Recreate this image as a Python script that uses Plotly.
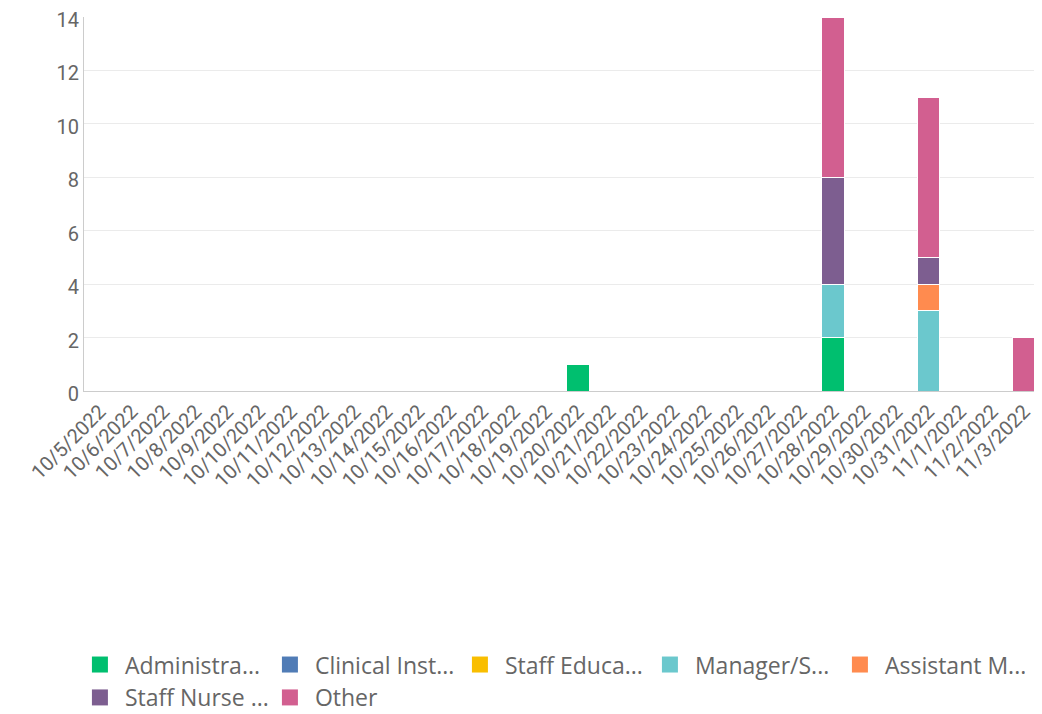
import plotly.graph_objects as go

dates = ["10/5/2022", "10/6/2022", "10/7/2022", "10/8/2022", "10/9/2022", "10/10/2022",
         "10/11/2022", "10/12/2022", "10/13/2022", "10/14/2022", "10/15/2022", "10/16/2022",
         "10/17/2022", "10/18/2022", "10/19/2022", "10/20/2022", "10/21/2022", "10/22/2022",
         "10/23/2022", "10/24/2022", "10/25/2022", "10/26/2022", "10/27/2022", "10/28/2022",
         "10/29/2022", "10/30/2022", "10/31/2022", "11/1/2022", "11/2/2022", "11/3/2022"]

administrative = [0]*15 + [1] + [0]*7 + [2] + [0]*6
clinical_inst = [0]*30
staff_educ = [0]*30
manager = [0]*23 + [2] + [0]*2 + [3] + [0]*3
assistant_m = [0]*26 + [1] + [0]*3
staff_nurse = [0]*23 + [4] + [0]*2 + [1] + [0]*3
other = [0]*23 + [6] + [0]*2 + [6] + [0]*2 + [2]

series = [
    ("Administra...", administrative, "#00bf6f"),
    ("Clinical Inst...", clinical_inst, "#507cb6"),
    ("Staff Educa...", staff_educ, "#f9be00"),
    ("Manager/S...", manager, "#6bc8cd"),
    ("Assistant M...", assistant_m, "#ff8b4f"),
    ("Staff Nurse ...", staff_nurse, "#7d5e90"),
    ("Other", other, "#d25f90"),
]

fig = go.Figure()
for name, vals, color in series:
    fig.add_trace(go.Bar(
        x=dates, y=vals, name=name, legendgroup=name, showlegend=False,
        marker=dict(color=color, line=dict(color="white", width=1)),
    ))
    # legend swatch (larger square than the default bar swatch)
    fig.add_trace(go.Scatter(
        x=[None], y=[None], mode="markers", name=name, legendgroup=name,
        marker=dict(symbol="square", size=16, color=color),
        hoverinfo="skip",
    ))

fig.update_layout(
    barmode="stack",
    bargap=0.3,
    width=1034, height=706,
    margin=dict(l=76, r=2, t=9, b=323, autoexpand=False),
    paper_bgcolor="white", plot_bgcolor="white",
    font=dict(family="Roboto", size=20, color="#666666"),
    xaxis=dict(
        type="category", tickangle=-45, showgrid=False, automargin=False,
        showline=True, linecolor="#cccccc", linewidth=1,
        ticks="", tickfont=dict(size=20, color="#666666"),
    ),
    yaxis=dict(
        range=[0, 14], dtick=2, showgrid=True, gridcolor="#ebebeb", automargin=False,
        showline=True, linecolor="#cccccc", linewidth=1, ticklabeloverflow="allow",
        ticklabelshift=3,
        zeroline=False, ticks="", tickfont=dict(size=20, color="#666666"),
    ),
    legend=dict(
        orientation="h", x=-0.0095, xanchor="left", y=-0.674, yanchor="top",
        entrywidth=135, entrywidthmode="pixels", itemwidth=40,
        font=dict(family="Open Sans", size=23, color="#666666"), traceorder="normal",
    ),
)

fig.write_html("out.html")
